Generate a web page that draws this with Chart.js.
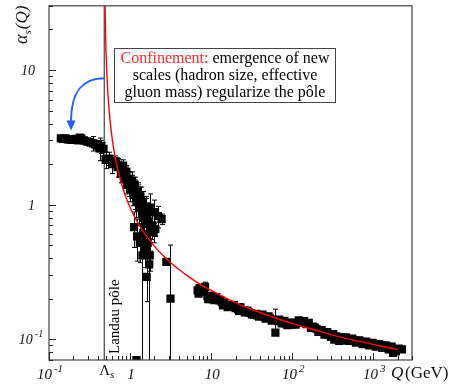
<!DOCTYPE html>
<html lang="en">
<head>
<meta charset="UTF-8">
<title>Running coupling alpha_s(Q)</title>
<script src="https://cdn.jsdelivr.net/npm/chart.js"></script>
<style>
  html, body { margin: 0; padding: 0; background: #fff; }
  #c { display: block; }
</style>
</head>
<body>
<canvas id="c" width="450" height="385"></canvas>
<script>
// --- data ---
const lambdaS = 0.48;             // Landau pole position (GeV)
const xMin = 0.1, xMax = 3000;
const yMin = 0.07, yMax = 30;

// one-loop coupling (red curve)
const curveQ = [0.49, 0.5, 0.51, 0.52, 0.54, 0.57, 0.6, 0.65, 0.7, 0.8, 0.9, 1, 1.2, 1.5, 2, 2.5, 3, 4, 5, 7, 10, 15, 20, 30, 50, 70, 100, 200, 300, 500, 1000, 1500, 2000];
const curveA = [33.9, 17.1, 11.5, 8.72, 5.93, 4.06, 3.13, 2.30, 1.85, 1.37, 1.11, 0.951, 0.762, 0.613, 0.489, 0.423, 0.381, 0.329, 0.298, 0.260, 0.230, 0.203, 0.187, 0.169, 0.150, 0.140, 0.131, 0.116, 0.108, 0.100, 0.0913, 0.0867, 0.0837];

// low-Q plateau
const plateauQ = [0.14, 0.15, 0.16, 0.17, 0.18, 0.19, 0.2, 0.21, 0.22, 0.23, 0.24, 0.25, 0.27, 0.29, 0.31, 0.33, 0.35, 0.37, 0.39, 0.41, 0.42, 0.44, 0.47];
const plateauA = [3.1, 3.08, 3.1, 3.05, 3.05, 3.02, 3.05, 3.05, 3.08, 3.0, 3.15, 3.1, 3.0, 2.95, 2.92, 2.88, 2.85, 2.8, 2.75, 2.72, 2.62, 2.7, 2.6];
const plateauErr = [0.05, 0.05, 0.05, 0.05, 0.05, 0.05, 0.05, 0.05, 0.05, 0.05, 0.05, 0.08, 0.08, 0.1, 0.1, 0.15, 0.35, 0.2, 0.2, 0.25, 0.5, 0.3, 0.3];

// transition region
const dropQ = [0.5, 0.55, 0.6, 0.66, 0.7, 0.74, 0.77, 0.8, 0.84, 0.88, 0.92, 0.96, 1.0, 1.05, 1.1, 1.15, 1.2, 1.25, 1.3, 1.36, 1.42, 1.48, 1.55, 1.62, 1.7, 1.78, 1.85, 1.95, 2.05, 2.45, 1.12, 1.22, 1.32, 1.45, 1.52, 1.65, 1.75, 1.42, 1.6, 1.72, 2.8, 3.15, 1.2,
               0.82, 0.9, 0.98, 1.06, 1.14, 1.24, 1.34, 1.44, 1.58, 1.68, 1.75, 2.0, 2.2];
const dropA = [2.15, 2.2, 2.0, 2.1, 1.9, 1.95, 1.7, 1.8, 1.55, 1.65, 1.4, 1.45, 1.3, 1.35, 1.18, 1.22, 1.05, 1.1, 0.95, 1.0, 0.88, 0.8, 0.86, 0.72, 0.75, 0.65, 0.7, 0.62, 0.66, 0.78, 0.68, 0.58, 0.52, 0.6, 0.46, 0.52, 0.42, 0.42, 0.29, 0.36, 0.375, 0.2, 0.07,
               1.95, 1.75, 1.55, 1.5, 1.4, 1.25, 1.15, 1.05, 0.95, 0.88, 0.95, 0.88, 0.82];
const dropErrDown = [0.3, 0.25, 0.3, 0.2, 0.3, 0.2, 0.25, 0.15, 0.2, 0.25, 0.2, 0.3, 0.25, 0.3, 0.2, 0.3, 0.25, 0.3, 0.25, 0.35, 0.25, 0.3, 0.25, 0.25, 0.2, 0.2, 0.15, 0.1, 0.08, 0.07, 0.2, 0.2, 0.15, 0.15, 0.12, 0.1, 0.1, 0.4, 0.1, 0.33, 0, 0.2, 0,
               0.2, 0.2, 0.2, 0.25, 0.2, 0.2, 0.2, 0.2, 0.2, 0.15, 0.25, 0.2, 0.15];
const dropErrUp = [0.3, 0.25, 0.3, 0.2, 0.3, 0.2, 0.25, 0.15, 0.2, 0.25, 0.2, 0.3, 0.25, 0.3, 0.2, 0.3, 0.25, 0.3, 0.25, 0.35, 0.25, 0.3, 0.25, 0.25, 0.2, 0.2, 0.15, 0.1, 0.08, 0.07, 0.2, 0.2, 0.2, 0.15, 0.15, 0.1, 0.1, 0.35, 0.16, 0.2, 0, 0.3, 0,
               0.2, 0.2, 0.2, 0.25, 0.2, 0.2, 0.2, 0.2, 0.2, 0.15, 0.25, 0.2, 0.15];

// perturbative region
const highQ = [6.8, 7.2, 7.6, 8.0, 8.4, 9.0, 9.5, 10.2, 11.5, 12.5, 13.5, 14.5, 15.5, 17, 18.5, 20, 21.5, 23, 25, 27, 29, 31, 34, 37, 41, 45, 49, 53, 58, 62, 66, 71, 77, 83, 90, 97, 105, 120, 140, 160, 180, 200, 220, 240, 260, 285, 310, 330, 350, 380, 400, 440, 480, 530, 580, 640, 700, 770, 850, 930, 1020, 1120, 1230, 1350, 1480, 1620, 1750, 1900, 2050, 2250,
               7.0, 7.9, 9.2, 9.8, 11, 13, 14, 16, 19, 22, 26, 28, 32, 36, 39, 43, 47, 51, 56, 69, 74, 80, 87, 94, 110, 130, 150, 170, 190, 210, 230, 250, 270, 300, 320, 360, 420, 460, 500, 550, 610, 670, 740, 810, 890, 980, 1070, 1180, 1290, 1420, 1550, 1680];
const highA = [0.230, 0.240, 0.225, 0.232, 0.245, 0.210, 0.205, 0.198, 0.205, 0.195, 0.188, 0.185, 0.180, 0.178, 0.174, 0.170, 0.168, 0.172, 0.163, 0.160, 0.158, 0.156, 0.152, 0.150, 0.150, 0.147, 0.145, 0.143, 0.140, 0.112, 0.138, 0.136, 0.133, 0.131, 0.130, 0.128, 0.132, 0.138, 0.136, 0.132, 0.124, 0.119, 0.116, 0.113, 0.111, 0.108, 0.107, 0.099, 0.105, 0.097, 0.103, 0.101, 0.100, 0.099, 0.098, 0.097, 0.096, 0.095, 0.094, 0.093, 0.092, 0.091, 0.090, 0.089, 0.088, 0.087, 0.079, 0.081, 0.085, 0.084,
               0.218, 0.240, 0.198, 0.210, 0.195, 0.195, 0.178, 0.173, 0.180, 0.162, 0.158, 0.163, 0.153, 0.154, 0.147, 0.152, 0.142, 0.148, 0.137, 0.140, 0.131, 0.137, 0.127, 0.133, 0.128, 0.132, 0.129, 0.121, 0.122, 0.113, 0.117, 0.108, 0.113, 0.104, 0.109, 0.103, 0.098, 0.103, 0.097, 0.101, 0.094, 0.098, 0.092, 0.096, 0.090, 0.094, 0.088, 0.092, 0.086, 0.090, 0.084, 0.088];
const highBarQ = [8.4, 15.5, 23, 62];
const highBarA = [0.245, 0.18, 0.172, 0.112];
const highBarDown = [0.02, 0.015, 0.012, 0];
const highBarUp = [0.02, 0.01, 0.012, 0.055];

// axis labels
const xMajor = [0.1, 1, 10, 100, 1000];
const xTickLabels = [['10', '-1'], ['1', ''], ['10', ''], ['10', '2'], ['10', '3']];
const yMajor = [0.1, 1, 10];
const yTickLabels = [['10', '-1'], ['1', ''], ['10', '']];

const SERIF = '"Liberation Serif", "Times New Roman", serif';

function pts(qs, as) {
  return qs.map((q, i) => ({ x: q, y: as[i] }));
}

// error bars drawn from the same arrays, through the chart scales
const errorBars = {
  id: 'errorBars',
  beforeDatasetsDraw(chart) {
    const ctx = chart.ctx, xs = chart.scales.x, ys = chart.scales.y, a = chart.chartArea;
    const groups = [
      [plateauQ, plateauA, plateauErr, plateauErr],
      [dropQ, dropA, dropErrDown, dropErrUp],
      [highBarQ, highBarA, highBarDown, highBarUp]
    ];
    ctx.save();
    ctx.beginPath();
    ctx.rect(a.left, a.top, a.right - a.left, a.bottom - a.top);
    ctx.clip();
    ctx.strokeStyle = '#000';
    ctx.lineWidth = 1;
    groups.forEach(([q, v, dn, up]) => {
      q.forEach((qq, i) => {
        if (!dn[i] && !up[i]) return;
        const x = Math.round(xs.getPixelForValue(qq)) + 0.5;
        const lo = v[i] - dn[i];
        const y1 = lo > 0 ? ys.getPixelForValue(lo) : a.bottom + 2;
        const y2 = ys.getPixelForValue(v[i] + up[i]);
        ctx.beginPath();
        ctx.moveTo(x, y1); ctx.lineTo(x, y2);
        if (lo > 0) { ctx.moveTo(x - 2.5, y1); ctx.lineTo(x + 2.5, y1); }
        ctx.moveTo(x - 2.5, y2); ctx.lineTo(x + 2.5, y2);
        ctx.stroke();
      });
    });
    ctx.restore();
  }
};

function drawPow(ctx, base, exp, cx, baseY, size) {
  ctx.textAlign = 'left';
  ctx.font = 'italic ' + size + 'px ' + SERIF;
  const wb = ctx.measureText(base).width;
  const es = Math.round(size * 0.72);
  ctx.font = 'italic ' + es + 'px ' + SERIF;
  const we = exp ? ctx.measureText(exp).width + 2 : 0;
  const x0 = cx - (wb + we) / 2;
  ctx.font = 'italic ' + size + 'px ' + SERIF;
  ctx.fillText(base, x0, baseY);
  if (exp) {
    ctx.font = 'italic ' + es + 'px ' + SERIF;
    ctx.fillText(exp, x0 + wb + 2, baseY - size * 0.48);
  }
}

// frame, inward ticks, labels and annotations
const decor = {
  id: 'decor',
  afterDraw(chart) {
    const ctx = chart.ctx, xs = chart.scales.x, ys = chart.scales.y, a = chart.chartArea;
    ctx.save();
    ctx.strokeStyle = '#444';
    ctx.lineWidth = 1.2;
    ctx.strokeRect(a.left, a.top, a.right - a.left, a.bottom - a.top);

    // ticks
    ctx.lineWidth = 1;
    ctx.strokeStyle = '#222';
    ctx.beginPath();
    for (let d = -2; d <= 4; d++) {
      for (let k = 1; k <= 9; k++) {
        const v = k * Math.pow(10, d);
        const len = k === 1 ? 7 : 4;
        if (v >= xMin && v <= xMax) {
          const x = Math.round(xs.getPixelForValue(v)) + 0.5;
          ctx.moveTo(x, a.bottom); ctx.lineTo(x, a.bottom - len);
        }
        if (v >= yMin && v <= yMax) {
          const y = Math.round(ys.getPixelForValue(v)) + 0.5;
          ctx.moveTo(a.left, y); ctx.lineTo(a.left + len, y);
        }
      }
    }
    ctx.stroke();

    // tick labels
    ctx.fillStyle = '#111';
    xMajor.forEach((v, i) => {
      drawPow(ctx, xTickLabels[i][0], xTickLabels[i][1], xs.getPixelForValue(v) + 1, 379, 15);
    });
    yMajor.forEach((v, i) => {
      const y = ys.getPixelForValue(v) + 5;
      if (yTickLabels[i][1]) {
        drawPow(ctx, yTickLabels[i][0], yTickLabels[i][1], 31, y, 14);
      } else {
        ctx.font = 'italic 14px ' + SERIF;
        ctx.textAlign = 'right';
        ctx.fillText(yTickLabels[i][0], 35, y);
      }
    });
    // Lambda_s label
    const lx = xs.getPixelForValue(lambdaS);
    ctx.textAlign = 'left';
    ctx.font = '15px ' + SERIF;
    ctx.fillText('\u039B', lx - 5, 375);
    const lw = ctx.measureText('\u039B').width;
    ctx.font = 'italic 11px ' + SERIF;
    ctx.fillText('s', lx - 5 + lw, 378);

    // x title
    ctx.font = 'italic 17px ' + SERIF;
    ctx.fillText('Q', 391, 378);
    ctx.font = '17px ' + SERIF;
    ctx.fillText('(GeV)', 405, 378);

    // y title
    ctx.save();
    ctx.translate(27, 44);
    ctx.rotate(-Math.PI / 2);
    ctx.font = 'italic 18px ' + SERIF;
    ctx.fillText('\u03B1', 0, 0);
    let w = ctx.measureText('\u03B1').width;
    ctx.font = 'italic 11px ' + SERIF;
    ctx.fillText('s', w, 4);
    w += ctx.measureText('s').width + 1;
    ctx.font = 'italic 17px ' + SERIF;
    ctx.fillText('(Q)', w, 0);
    ctx.restore();

    // Landau pole label
    ctx.save();
    ctx.translate(119, 354);
    ctx.rotate(-Math.PI / 2);
    ctx.font = '15px ' + SERIF;
    ctx.fillStyle = '#000';
    ctx.fillText('Landau p\u00F4le', 0, 0);
    ctx.restore();

    // annotation box
    ctx.fillStyle = '#fff';
    ctx.fillRect(114, 48, 222, 54);
    ctx.strokeStyle = '#444';
    ctx.lineWidth = 1;
    ctx.strokeRect(114.5, 48.5, 221, 54);
    ctx.font = '16px ' + SERIF;
    ctx.textAlign = 'left';
    const red = 'Confinement:', rest = ' emergence of new';
    const w1 = ctx.measureText(red).width, w2 = ctx.measureText(rest).width;
    let x0 = 225 - (w1 + w2) / 2;
    ctx.fillStyle = '#ff2a2a';
    ctx.fillText(red, x0, 63);
    ctx.fillStyle = '#000';
    ctx.fillText(rest, x0 + w1, 63);
    ctx.textAlign = 'center';
    ctx.fillText('scales (hadron size, effective', 225, 80);
    ctx.fillText('gluon mass) regularize the p\u00F4le', 225, 97);

    // blue arrow from the pole towards the plateau
    const sx = xs.getPixelForValue(lambdaS), sy = ys.getPixelForValue(8.7);
    const tx = xs.getPixelForValue(0.187), ty = ys.getPixelForValue(3.55);
    ctx.strokeStyle = '#1f5bff';
    ctx.fillStyle = '#1f5bff';
    ctx.lineWidth = 2;
    ctx.beginPath();
    ctx.moveTo(sx, sy);
    ctx.bezierCurveTo(sx - 20, sy, tx, sy + 11, tx, ty - 9);
    ctx.stroke();
    ctx.beginPath();
    ctx.moveTo(tx, ty);
    ctx.lineTo(tx - 4.5, ty - 10);
    ctx.lineTo(tx + 4.5, ty - 10);
    ctx.closePath();
    ctx.fill();
    ctx.restore();
  }
};

const squareStyle = {
  pointStyle: 'rect',
  pointRadius: 5.8,
  backgroundColor: '#000',
  borderWidth: 0,
  showLine: false,
  clip: 0
};

new Chart(document.getElementById('c'), {
  type: 'scatter',
  data: {
    datasets: [
      {
        label: 'one-loop',
        type: 'line',
        data: pts(curveQ, curveA),
        borderColor: '#ff0000',
        borderWidth: 1.4,
        pointRadius: 0,
        cubicInterpolationMode: 'monotone',
        fill: false,
        clip: 0
      },
      Object.assign({ label: 'plateau', data: pts(plateauQ, plateauA) }, squareStyle),
      Object.assign({ label: 'transition', data: pts(dropQ, dropA) }, squareStyle),
      Object.assign({ label: 'perturbative', data: pts(highQ, highA) }, squareStyle),
      {
        label: 'Lambda_s',
        type: 'line',
        data: [{ x: lambdaS, y: yMin }, { x: lambdaS, y: yMax }],
        borderColor: '#333',
        borderWidth: 1.1,
        pointRadius: 0,
        clip: 0
      }
    ]
  },
  options: {
    responsive: false,
    animation: false,
    events: [],
    layout: { padding: { left: 49, right: 38, top: 5, bottom: 25 } },
    plugins: { legend: { display: false }, tooltip: { enabled: false } },
    scales: {
      x: { type: 'logarithmic', min: xMin, max: xMax, display: false },
      y: { type: 'logarithmic', min: yMin, max: yMax, display: false }
    }
  },
  plugins: [errorBars, decor]
});
</script>
</body>
</html>
